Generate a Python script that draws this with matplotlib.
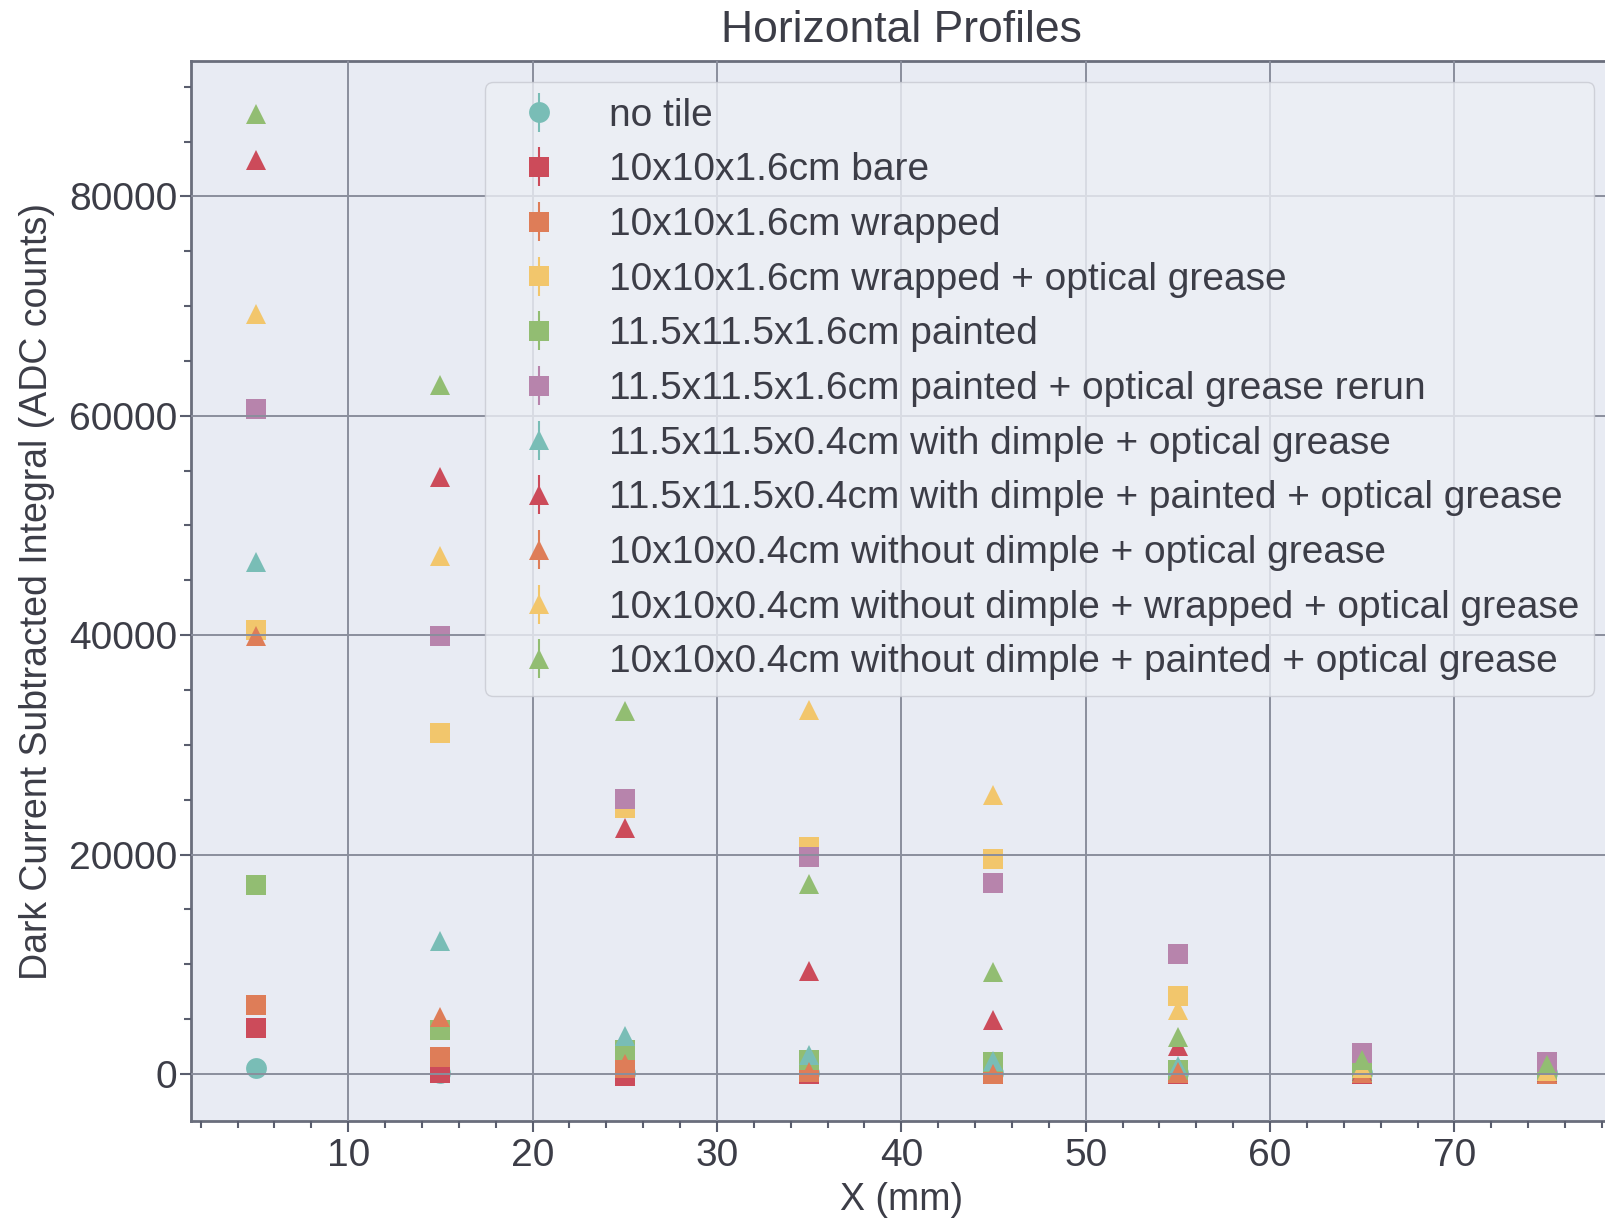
import numpy as np
import matplotlib
matplotlib.use('Agg')
from matplotlib import pyplot as plt
from matplotlib.ticker import MultipleLocator

plt.rcParams['font.family'] = ['Liberation Sans', 'DejaVu Sans']

# scan positions (mm)
x_mm = [5, 15, 25, 35, 45, 55, 65, 75]

labels = ['no tile',
          '10x10x1.6cm bare',
          '10x10x1.6cm wrapped',
          '10x10x1.6cm wrapped + optical grease',
          '11.5x11.5x1.6cm painted',
          '11.5x11.5x1.6cm painted + optical grease rerun',
          '11.5x11.5x0.4cm with dimple + optical grease',
          '11.5x11.5x0.4cm with dimple + painted + optical grease',
          '10x10x0.4cm without dimple + optical grease',
          '10x10x0.4cm without dimple + wrapped + optical grease',
          '10x10x0.4cm without dimple + painted + optical grease']

# dark current subtracted integral (ADC counts)
no_tile        = [560, 100, 50, 50, 50, 50, 50, 50]
bare_16        = [4200, 100, -200, 0, 0, 0, 0, 0]
wrapped_16     = [6300, 1500, 500, 200, 100, 100, 100, 100]
wrapped_gr_16  = [40500, 31100, 24200, 20700, 19600, 7100, 300, 200]
painted_16     = [17200, 4000, 2200, 1300, 1100, 400, 200, 200]
painted_gr_16  = [60600, 39900, 25100, 19800, 17400, 10900, 1900, 1100]
dimple_gr      = [46700, 12100, 3500, 1700, 1200, 700, 300, 200]
dimple_pt_gr   = [83300, 54400, 22400, 9400, 4900, 2500, 300, 200]
nodimple_gr    = [39900, 5200, 900, 200, 0, 200, 100, 0]
nodimple_wr_gr = [69300, 47200, np.nan, 33200, 25400, 5800, 500, 300]
nodimple_pt_gr = [87500, 62800, 33100, 17300, 9300, 3400, 1300, 800]

series = [no_tile, bare_16, wrapped_16, wrapped_gr_16, painted_16, painted_gr_16,
          dimple_gr, dimple_pt_gr, nodimple_gr, nodimple_wr_gr, nodimple_pt_gr]
markers = ['o', 's', 's', 's', 's', 's', '^', '^', '^', '^', '^']
colors = ['#79bdb6', '#cc4b5a', '#de7d58', '#f2c66c', '#92bd72', '#b784ac']

text_col = '#3c3d47'
grid_col = '#8a8e9c'

fig = plt.figure(figsize=(16.05, 12.22), dpi=100)
ax = fig.add_axes([0.1193, 0.0826, 0.8845, 0.8671])
ax.set_facecolor('#e8ebf3')

for i, (vals, lab) in enumerate(zip(series, labels)):
    err = np.zeros(len(vals))
    ax.errorbar(x_mm, vals, yerr=err, fmt=markers[i], color=colors[i % 6],
                ms=15, mew=0, elinewidth=1.5, label=lab)

ax.set_xlim(1.5, 78.5)
ax.set_ylim(-4300, 92300)
ax.xaxis.set_major_locator(MultipleLocator(10))
ax.xaxis.set_minor_locator(MultipleLocator(2))
ax.yaxis.set_major_locator(MultipleLocator(20000))
ax.yaxis.set_minor_locator(MultipleLocator(5000))

ax.set_axisbelow(False)
ax.grid(True, which='major', color=grid_col, linewidth=1.4)
ax.tick_params(which='both', direction='out', colors='#5a5e6e', labelcolor=text_col,
               labelsize=28, width=1.5)
ax.tick_params(which='major', length=8, pad=4)
ax.tick_params(axis='y', which='major', pad=2)
ax.tick_params(which='minor', length=5)
for side in ['left', 'bottom', 'top', 'right']:
    ax.spines[side].set_color('#6a6e7c')
    ax.spines[side].set_linewidth(2)

ax.set_xlabel('X (mm)', fontsize=27, color=text_col, labelpad=6)
ax.set_ylabel('Dark Current Subtracted Integral (ADC counts)', fontsize=27, color=text_col, labelpad=10)
ax.set_title('Horizontal Profiles', fontsize=32, color=text_col, pad=14)

leg = ax.legend(loc='upper right', bbox_to_anchor=(0.9883, 0.9804), fontsize=28,
                handlelength=2.0, handletextpad=0.78, labelspacing=0.48,
                borderpad=0.4, borderaxespad=0.0, framealpha=0.8,
                facecolor='#eceff5', edgecolor='#c8cad2', numpoints=1)
for t in leg.get_texts():
    t.set_color(text_col)

fig.savefig('out.png', dpi=100)
